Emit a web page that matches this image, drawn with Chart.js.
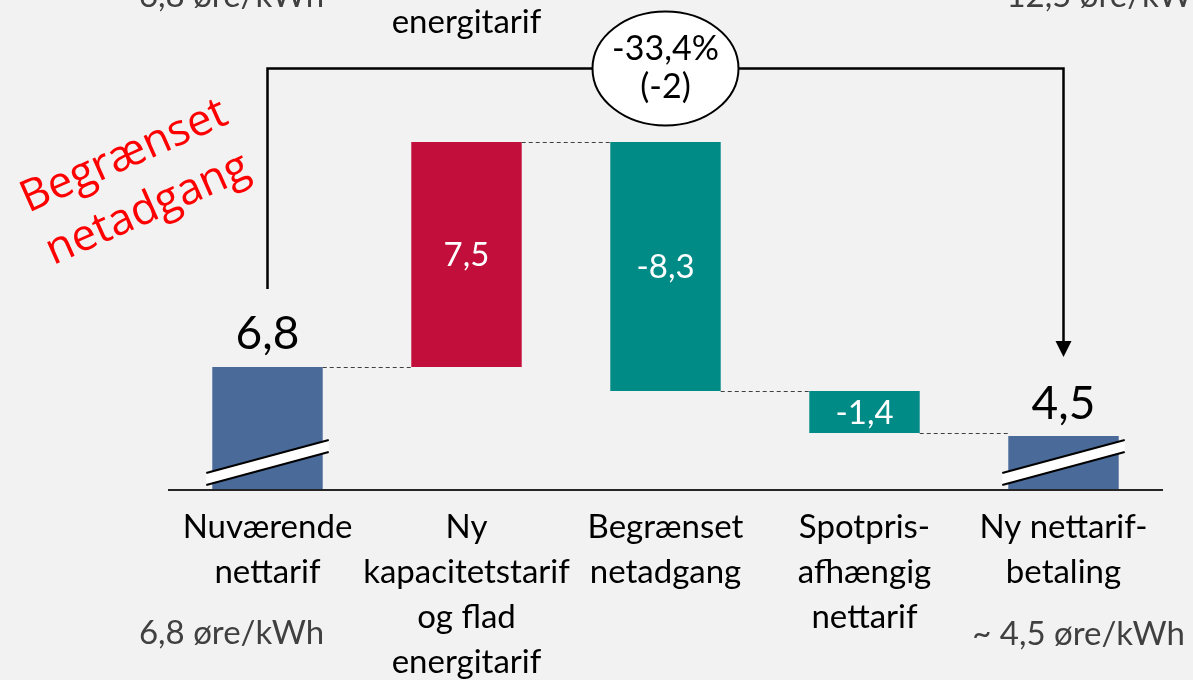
<!DOCTYPE html>
<html>
<head>
<meta charset="utf-8">
<script src="https://cdn.jsdelivr.net/npm/chart.js@4"></script>
<style>
  html, body { margin: 0; padding: 0; background: #F2F2F2; overflow: hidden; }
</style>
</head>
<body>
<canvas id="chart" width="1193" height="680"></canvas>
<script>
// waterfall data (øre/kWh)
const categories = [
  ['Nuværende', 'nettarif'],
  ['Ny', 'kapacitetstarif', 'og flad', 'energitarif'],
  ['Begrænset', 'netadgang'],
  ['Spotpris-', 'afhængig', 'nettarif'],
  ['Ny nettarif-', 'betaling']
];
const startValue = 6.8;
const changes = [7.5, -8.3, -1.4];
const endValue = 4.5;
const subLabels = ['6,8 øre/kWh', '', '', '', '~ 4,5 øre/kWh'];
const changePct = '-33,4%';
const changeAbs = '(-2)';
const axisFloor = 2.7; // axis is broken, bars start here
const axisTop = 19.03;

const colors = {
  total: '#4A6A99',
  up: '#C20E3B',
  down: '#008B87'
};

// build floating bars from running totals
const ranges = [[axisFloor, startValue]];
const barColors = [colors.total];
let running = startValue;
changes.forEach(c => {
  ranges.push([running, running + c]);
  barColors.push(c >= 0 ? colors.up : colors.down);
  running += c;
});
ranges.push([axisFloor, endValue]);
barColors.push(colors.total);

const fmt = v => v.toFixed(1).replace('.', ',');
const catFont = '33px Lato';

const overlay = {
  id: 'overlay',
  beforeDraw(chart) {
    const ctx = chart.ctx;
    ctx.save();
    ctx.fillStyle = '#F2F2F2';
    ctx.fillRect(0, 0, chart.width, chart.height);
    ctx.restore();
  },
  afterDatasetsDraw(chart) {
    const ctx = chart.ctx;
    const bars = chart.getDatasetMeta(0).data;
    const y = chart.scales.y;
    const base = y.getPixelForValue(axisFloor);
    ctx.save();

    // dashed connectors between bars
    ctx.strokeStyle = '#404040';
    ctx.lineWidth = 1;
    ctx.setLineDash([4, 3]);
    let level = startValue;
    for (let i = 0; i < bars.length - 1; i++) {
      const a = bars[i], b = bars[i + 1];
      const py = Math.round(y.getPixelForValue(level)) + 0.5;
      ctx.beginPath();
      ctx.moveTo(a.x + a.width / 2, py);
      ctx.lineTo(b.x - b.width / 2, py);
      ctx.stroke();
      if (i < changes.length) level += changes[i];
    }
    ctx.setLineDash([]);

    // axis line
    ctx.strokeStyle = '#262626';
    ctx.lineWidth = 2;
    ctx.beginPath();
    ctx.moveTo(chart.chartArea.left, base);
    ctx.lineTo(chart.chartArea.right, base);
    ctx.stroke();

    // axis break strips on total bars
    [0, bars.length - 1].forEach(i => {
      const b = bars[i];
      const xl = b.x - b.width / 2 - 6, xr = b.x + b.width / 2 + 6;
      ctx.fillStyle = '#FFFFFF';
      ctx.beginPath();
      ctx.moveTo(xl, base - 17);
      ctx.lineTo(xr, base - 50);
      ctx.lineTo(xr, base - 38);
      ctx.lineTo(xl, base - 5);
      ctx.closePath();
      ctx.fill();
      ctx.strokeStyle = '#000';
      ctx.lineWidth = 2;
      ctx.beginPath();
      ctx.moveTo(xl, base - 17); ctx.lineTo(xr, base - 50);
      ctx.moveTo(xl, base - 5); ctx.lineTo(xr, base - 38);
      ctx.stroke();
    });

    // value labels
    ctx.textAlign = 'center';
    ctx.fillStyle = '#000';
    ctx.font = '46px Lato';
    ctx.textBaseline = 'alphabetic';
    ctx.fillText(fmt(startValue), bars[0].x, bars[0].y - 18);
    ctx.fillText(fmt(endValue), bars[4].x, bars[4].y - 17);
    ctx.fillStyle = '#FFFFFF';
    ctx.font = '33px Lato';
    ctx.textBaseline = 'middle';
    changes.forEach((c, i) => {
      const b = bars[i + 1];
      ctx.fillText(fmt(c), b.x, (b.y + b.base) / 2 + 1);
    });

    // category labels
    ctx.fillStyle = '#000';
    ctx.font = catFont;
    ctx.textBaseline = 'alphabetic';
    categories.forEach((lines, i) => {
      lines.forEach((t, j) => ctx.fillText(t, bars[i].x, 538 + j * 45));
    });
    ctx.fillStyle = '#404040';
    ctx.font = '33px Lato';
    ctx.fillText(subLabels[0], bars[0].x - 36, 644);
    ctx.fillText(subLabels[4], bars[4].x + 15, 645);

    // cut-off text from slide above
    ctx.fillText('6,8 øre/kWh', bars[0].x - 36, 7);
    ctx.fillText('12,5 øre/kWh', bars[4].x + 45, 7);
    ctx.fillStyle = '#000';
    ctx.font = catFont;
    ctx.fillText('energitarif', bars[1].x, 33);

    // bracket with arrow
    const bx1 = bars[0].x, bx2 = bars[4].x, by = 68.5;
    ctx.strokeStyle = '#000';
    ctx.lineWidth = 2.5;
    ctx.beginPath();
    ctx.moveTo(bx1, 289);
    ctx.lineTo(bx1, by);
    ctx.lineTo(bx2, by);
    ctx.lineTo(bx2, 342);
    ctx.stroke();
    ctx.fillStyle = '#000';
    ctx.beginPath();
    ctx.moveTo(bx2 - 8, 341);
    ctx.lineTo(bx2 + 8, 341);
    ctx.lineTo(bx2, 357);
    ctx.closePath();
    ctx.fill();

    // ellipse with change
    const ex = bars[2].x;
    ctx.fillStyle = '#FFFFFF';
    ctx.lineWidth = 2;
    ctx.beginPath();
    ctx.ellipse(ex, by, 73, 57, 0, 0, Math.PI * 2);
    ctx.fill();
    ctx.stroke();
    ctx.fillStyle = '#000';
    ctx.font = '34px Lato';
    ctx.fillText(changePct, ex, 60);
    ctx.fillText(changeAbs, ex, 98);

    // rotated red annotation
    ctx.translate(136, 183);
    ctx.rotate(-24 * Math.PI / 180);
    ctx.fillStyle = '#FF0000';
    ctx.font = '44px "Open Sans"';
    ctx.textBaseline = 'middle';
    ctx.fillText('Begrænset', 0, -29);
    ctx.fillText('netadgang', 0, 29);

    ctx.restore();
  }
};

new Chart(document.getElementById('chart'), {
  type: 'bar',
  data: {
    labels: categories,
    datasets: [{
      data: ranges,
      backgroundColor: barColors,
      borderWidth: 0,
      barPercentage: 0.555,
      categoryPercentage: 1.0
    }]
  },
  options: {
    responsive: false,
    animation: false,
    layout: { padding: { left: 168, right: 30, top: 0, bottom: 190 } },
    plugins: { legend: { display: false }, tooltip: { enabled: false } },
    scales: {
      x: { display: false },
      y: { display: false, min: axisFloor, max: axisTop }
    }
  },
  plugins: [overlay]
});
</script>
</body>
</html>
